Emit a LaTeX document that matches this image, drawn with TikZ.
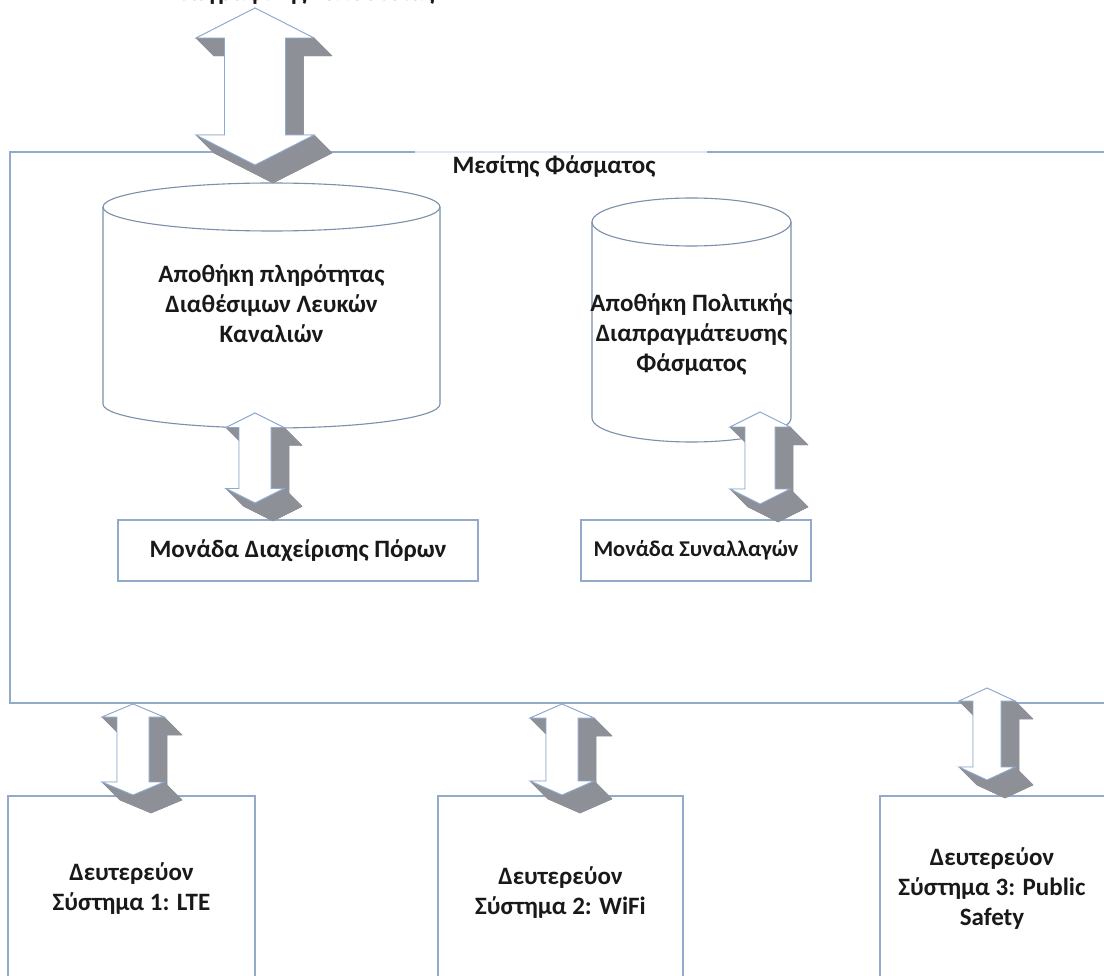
\documentclass[tikz,border=0pt]{standalone}
\usepackage{fontspec}
\setmainfont{Carlito}
\definecolor{boxline}{HTML}{93AACB}
\definecolor{cylline}{HTML}{7C90AA}
\definecolor{arrline}{HTML}{8FAAD0}
\definecolor{shadecol}{HTML}{8D9097}
\definecolor{faintline}{HTML}{E2E8EF}
\tikzset{
  boxline/.style={draw=boxline, line width=1.6pt},
  cyl/.style={draw=cylline, line width=1.1pt},
  shade3d/.style={fill=shadecol, draw=shadecol, line width=0.4pt, line join=round},
  arrowface/.style={fill=white, draw=arrline, line width=0.9pt, line join=miter},
  txt/.style={font=\bfseries\fontsize{25}{30}\selectfont, align=center, inner sep=0pt, text=black!90},
  rbox/.style={boxline, fill=white, inner sep=0pt}
}
\newcommand\blockarrow[7]{% name, cx, ytop, ybot, hw, sw, hh
  \coordinate (#1-1) at (#2,#3);
  \coordinate (#1-2) at ({#2+#5},{#3+#7});
  \coordinate (#1-3) at ({#2+#6},{#3+#7});
  \coordinate (#1-4) at ({#2+#6},{#4-#7});
  \coordinate (#1-5) at ({#2+#5},{#4-#7});
  \coordinate (#1-6) at (#2,#4);
  \coordinate (#1-7) at ({#2-#5},{#4-#7});
  \coordinate (#1-8) at ({#2-#6},{#4-#7});
  \coordinate (#1-9) at ({#2-#6},{#3+#7});
  \coordinate (#1-10) at ({#2-#5},{#3+#7});
  \foreach \a/\b in {1/2,2/3,3/4,4/5,5/6,6/7,7/8,8/9,9/10,10/1}
    \filldraw[shade3d] (#1-\a) -- (#1-\b) -- ([shift={(18,18)}]#1-\b) -- ([shift={(18,18)}]#1-\a) -- cycle;
  \filldraw[shade3d] ([shift={(18,18)}]#1-1) \foreach \i in {2,...,10}{ -- ([shift={(18,18)}]#1-\i)} -- cycle;
  \draw[arrowface] (#1-1) \foreach \i in {2,...,10}{ -- (#1-\i)} -- cycle;
}
\newcommand\cylinderpath[5]{% cx, rx, ytopc, ybotc, ry
  \draw[cyl] ({#1-#2},#3) -- ({#1-#2},#4)
    .. controls ({#1-#2},{#4+0.5523*#5}) and ({#1-0.5523*#2},{#4+#5}) .. (#1,{#4+#5})
    .. controls ({#1+0.5523*#2},{#4+#5}) and ({#1+#2},{#4+0.5523*#5}) .. ({#1+#2},#4)
    -- ({#1+#2},#3);
  \draw[cyl] (#1,#3) ellipse [x radius=#2, y radius=#5];
}
\begin{document}
\begin{tikzpicture}[x=1pt, y=-1pt]
\useasboundingbox (0,0) rectangle (1104,976);
\clip (0,0) rectangle (1104,976);
\fill[white] (0,0) rectangle (1104,976);

% top partially visible label (cut by the frame, as in the reference)
\node[txt, anchor=base] (geo) at (301,1) {Γεωγραφικής Τοποθεσίας};

% spectrum broker frame
\draw[boxline] (415,152) -- (10,152) -- (10,703) -- (1112,703) -- (1112,152) -- (707,152);
\draw[draw=faintline, line width=1.6pt] (415,152) -- (707,152);
\node[txt, anchor=base] (broker) at (554,174) {Μεσίτης Φάσματος};

% databases
\cylinderpath{271.5}{168.5}{207}{404}{24}
\node[txt] (db1) at (271.5,304) {Αποθήκη πληρότητας\\Διαθέσιμων Λευκών\\Καναλιών};
\cylinderpath{691.5}{99.5}{222}{418}{24}
\node[txt] (db2) at (691.5,335) {Αποθήκη Πολιτικής\\Διαπραγμάτευσης\\Φάσματος};

% units
\node[rbox, minimum width=360, minimum height=61] (rm) at (298,550.5) {};
\node[txt] (rmt) at (rm.center) {Μονάδα Διαχείρισης Πόρων};
\node[rbox, minimum width=230, minimum height=61] (tu) at (696,550.5) {};
\node[txt, font=\bfseries\fontsize{22.5}{30}\selectfont] (tut) at (tu.center) {Μονάδα Συναλλαγών};

% secondary systems
\draw[boxline] (8,1000) -- (8,796) -- (255,796) -- (255,1000);
\draw[boxline] (438,1000) -- (438,796) -- (683,796) -- (683,1000);
\draw[boxline] (880,1000) -- (880,796) -- (1112,796);
\node[txt] (s1) at (131.5,889) {Δευτερεύον\\Σύστημα 1: LTE};
\node[txt] (s2) at (560.5,893) {Δευτερεύον\\Σύστημα 2: WiFi};
\node[txt] (s3) at (992,889) {Δευτερεύον\\Σύστημα 3: Public\\Safety};

% block arrows
\blockarrow{aT}{255}{8}{165}{59}{30.5}{30}
\blockarrow{aA}{255}{413}{503}{29}{16}{14.5}
\blockarrow{aB}{760}{412}{504}{30}{15}{15}
\blockarrow{aC}{133}{704}{795}{31}{16}{13}
\blockarrow{aD}{562}{704}{795}{32}{16}{14}
\blockarrow{aE}{987}{688}{780}{28}{14}{13}
\end{tikzpicture}
\end{document}
